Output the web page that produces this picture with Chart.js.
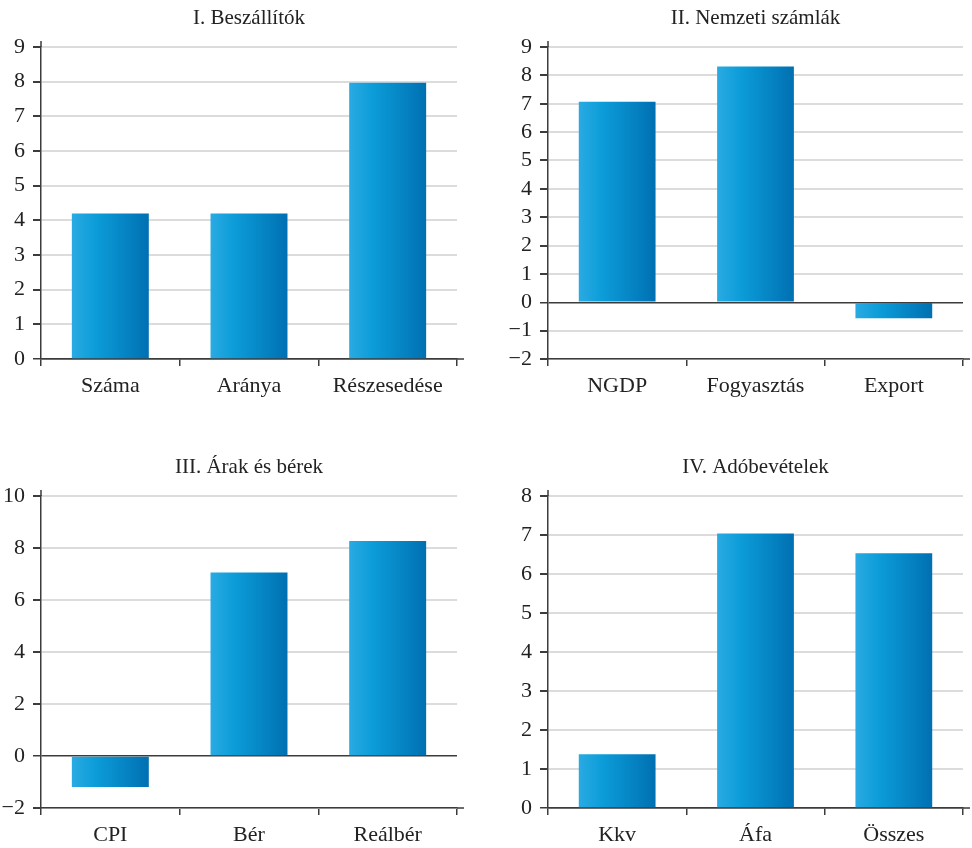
<!DOCTYPE html>
<html>
<head>
<meta charset="utf-8">
<script src="https://cdn.jsdelivr.net/npm/chart.js@4.4.1/dist/chart.umd.min.js"></script>
<style>
  html, body { margin: 0; padding: 0; background: #fff; }
  #wrap { position: relative; width: 972px; height: 848px; }
  .panel { position: absolute; width: 486px; }
  .top { top: 0; height: 449px; }
  .bottom { top: 449px; height: 399px; }
  .left { left: 0; }
  .right { left: 486px; }
</style>
</head>
<body>
<div id="wrap">
  <div class="panel top left"><canvas id="c1"></canvas></div>
  <div class="panel top right"><canvas id="c2"></canvas></div>
  <div class="panel bottom left"><canvas id="c3"></canvas></div>
  <div class="panel bottom right"><canvas id="c4"></canvas></div>
</div>
<script>
// panel data
const titles = ['I. Beszállítók', 'II. Nemzeti számlák', 'III. Árak és bérek', 'IV. Adóbevételek'];

const suppliersLabels = ['Száma', 'Aránya', 'Részesedése'];
const suppliersValues = [4.2, 4.2, 7.97];

const accountsLabels = ['NGDP', 'Fogyasztás', 'Export'];
const accountsValues = [7.07, 8.31, -0.56];

const pricesLabels = ['CPI', 'Bér', 'Reálbér'];
const pricesValues = [-1.19, 7.06, 8.27];

const taxLabels = ['Kkv', 'Áfa', 'Összes'];
const taxValues = [1.38, 7.04, 6.53];

// y ranges: [min, max, step]
const suppliersRange = [0, 9, 1];
const accountsRange = [-2, 9, 1];
const pricesRange = [-2, 10, 2];
const taxRange = [0, 8, 1];

const FONT = "'Liberation Serif', 'DejaVu Serif', serif";
const AXIS = '#3c3c3c';
const GRID = '#dcdcdc';
const BAR_PCT = 0.555;

// small extensions of the axis lines past the plot area
const axisExtras = {
    id: 'axisExtras',
    afterDraw(chart) {
        const a = chart.chartArea;
        const ctx = chart.ctx;
        ctx.save();
        ctx.strokeStyle = AXIS;
        ctx.lineWidth = 1.5;
        ctx.beginPath();
        ctx.moveTo(a.left, a.top - 6);
        ctx.lineTo(a.left, a.top);
        ctx.moveTo(a.right, a.bottom);
        ctx.lineTo(a.right + 7, a.bottom);
        ctx.stroke();
        ctx.restore();
    }
};

function barGradient(context, labels) {
    const chart = context.chart;
    const x = chart.scales.x;
    if (!x || !chart.chartArea) return '#0b9cd8';
    const c = x.getPixelForValue(context.dataIndex);
    const w = (x.width / labels.length) * BAR_PCT;
    const g = chart.ctx.createLinearGradient(c - w / 2, 0, c + w / 2, 0);
    g.addColorStop(0, '#2aaae2');
    g.addColorStop(0.3, '#0c9dd9');
    g.addColorStop(1, '#0070b2');
    return g;
}

function makePanel(id, title, labels, values, range, yWidth, padRight, padBottom) {
    const ctx = document.getElementById(id);
    return new Chart(ctx, {
        type: 'bar',
        data: {
            labels: labels,
            datasets: [{
                data: values,
                backgroundColor: (c) => barGradient(c, labels),
                borderWidth: 0,
                categoryPercentage: 1,
                barPercentage: BAR_PCT
            }]
        },
        options: {
            responsive: true,
            maintainAspectRatio: false,
            animation: false,
            layout: { padding: { left: 0, right: padRight, top: 0, bottom: padBottom } },
            plugins: {
                legend: { display: false },
                tooltip: { enabled: false },
                title: {
                    display: true,
                    text: title,
                    fullSize: false,
                    color: '#222',
                    font: { family: FONT, size: 21, weight: 'normal', lineHeight: 1.2 },
                    padding: { top: 6, bottom: 15.8 }
                }
            },
            scales: {
                x: {
                    offset: true,
                    grid: {
                        offset: true,
                        drawOnChartArea: false,
                        drawTicks: true,
                        tickLength: 7,
                        color: AXIS,
                        tickColor: AXIS,
                        lineWidth: 1.5
                    },
                    border: { color: AXIS, width: 1.5 },
                    ticks: {
                        color: '#222',
                        font: { family: FONT, size: 22 },
                        padding: 7,
                        maxRotation: 0,
                        autoSkip: false
                    },
                    afterFit: (scale) => { scale.height = 40; }
                },
                y: {
                    min: range[0],
                    max: range[1],
                    grid: {
                        color: (c) => c.tick && c.tick.value === 0 ? AXIS : GRID,
                        tickColor: AXIS,
                        lineWidth: (c) => c.tick && c.tick.value === 0 ? 1.5 : 2,
                        tickLength: 8
                    },
                    border: { color: AXIS, width: 1.5 },
                    ticks: {
                        stepSize: range[2],
                        autoSkip: false,
                        color: '#222',
                        padding: 8,
                        font: { family: FONT, size: 22 },
                        callback: (v) => String(v).replace('-', '\u2212')
                    },
                    afterFit: (scale) => { scale.width = yWidth; }
                }
            }
        },
        plugins: [axisExtras]
    });
}

makePanel('c1', titles[0], suppliersLabels, suppliersValues, suppliersRange, 41, 29, 50);
makePanel('c2', titles[1], accountsLabels, accountsValues, accountsRange, 62, 9, 50);
makePanel('c3', titles[2], pricesLabels, pricesValues, pricesRange, 41, 29, 0);
makePanel('c4', titles[3], taxLabels, taxValues, taxRange, 62, 9, 0);
</script>
</body>
</html>
